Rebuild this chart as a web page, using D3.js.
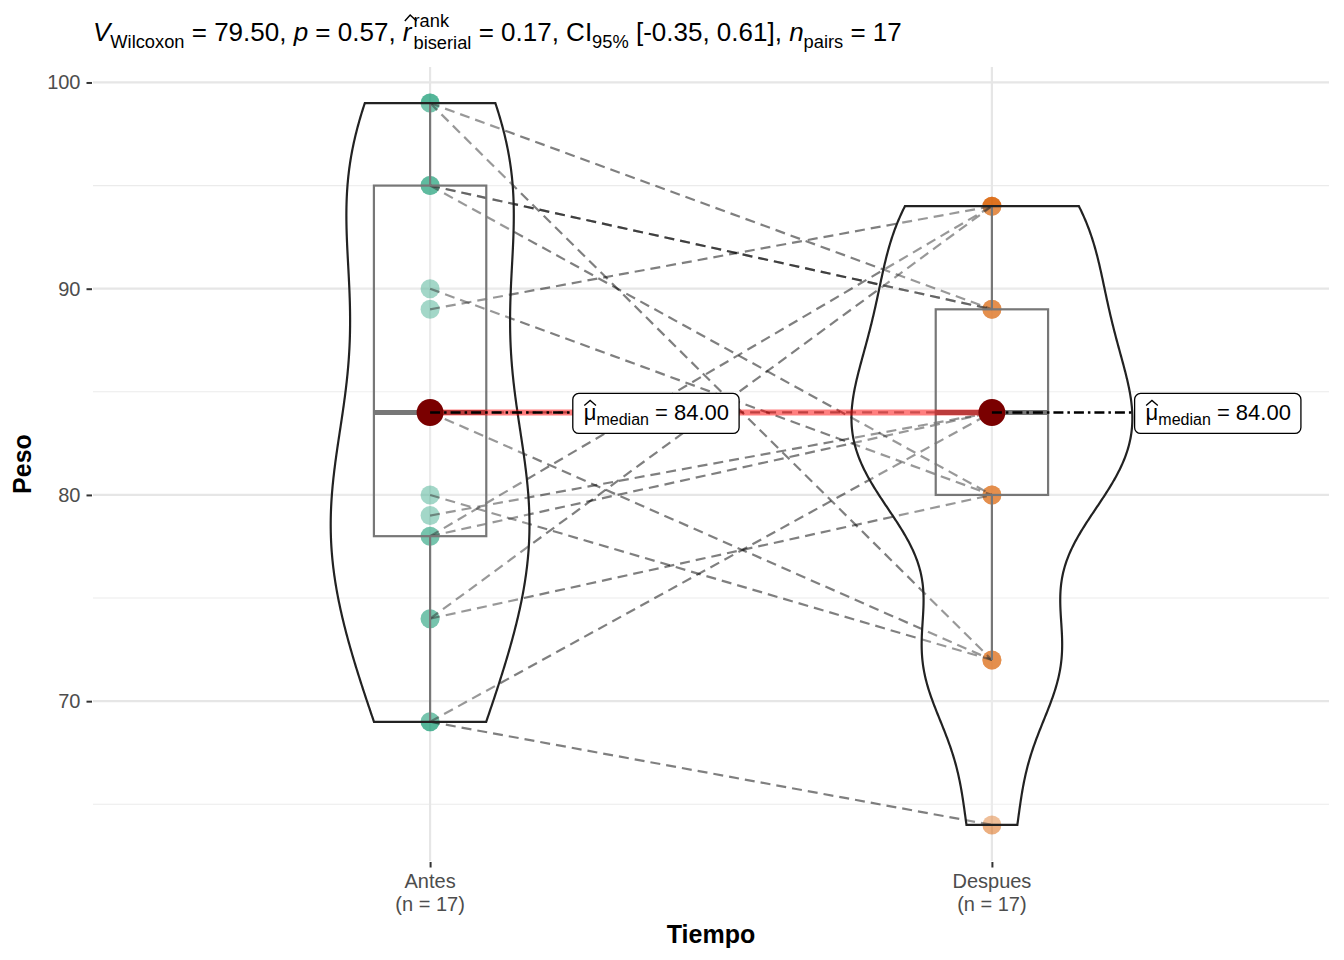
<!DOCTYPE html>
<html><head><meta charset="utf-8">
<script src="https://cdn.jsdelivr.net/npm/d3@7"></script>
<style>body{margin:0;background:#fff;} text{font-family:"Liberation Sans",Arial,Helvetica,sans-serif; white-space:pre;}</style>
</head><body><svg id="c" width="1344" height="960"></svg>
<script>
// ---------------- data ----------------
const categories = ["Antes", "Despues"];
const categoryCounts = ["(n = 17)", "(n = 17)"];
// paired observations (row i of antes pairs with row i of despues)
const antes   = [99, 99, 95, 95, 95, 90, 89, 84, 84, 80, 79, 78, 78, 74, 74, 69, 69];
const despues = [89, 72, 89, 89, 80, 80, 94, 84, 72, 72, 84, 94, 84, 94, 80, 84, 64];
const groupColors = ["#1B9E77", "#D95F02"];
const yMajorTicks = [70, 80, 90, 100];
const yMinorTicks = [65, 75, 85, 95];
const medianLabels = ["84.00", "84.00"];
const xTitle = "Tiempo";
const yTitle = "Peso";
const statV = "79.50", statP = "0.57", statR = "0.17", statCI = "[-0.35, 0.61]", statN = "17";

// ---------------- layout ----------------
const svg = d3.select("#c");
const panel = {left: 93, right: 1329, top: 67, bottom: 861};
const FONT = '"Liberation Sans",Arial,Helvetica,sans-serif';

const x = d3.scalePoint().domain(categories).range([panel.left, panel.right]).padding(0.6);
const step = x.step();
const allVals = antes.concat(despues);
const ymin = d3.min(allVals), ymax = d3.max(allVals), pad = (ymax - ymin) * 0.05;
const y = d3.scaleLinear().domain([ymin - pad, ymax + pad]).range([panel.bottom, panel.top]);

const groups = [antes, despues];

// ---------------- grid ----------------
const grid = svg.append("g");
grid.selectAll(".ymin").data(yMinorTicks).join("line")
  .attr("x1", panel.left).attr("x2", panel.right)
  .attr("y1", d => y(d)).attr("y2", d => y(d))
  .attr("stroke", "#EBEBEB").attr("stroke-width", 1.1);
grid.selectAll(".ymaj").data(yMajorTicks).join("line")
  .attr("x1", panel.left).attr("x2", panel.right)
  .attr("y1", d => y(d)).attr("y2", d => y(d))
  .attr("stroke", "#E6E6E6").attr("stroke-width", 2.2);
grid.selectAll(".xmaj").data(categories).join("line")
  .attr("x1", d => x(d)).attr("x2", d => x(d))
  .attr("y1", panel.top).attr("y2", panel.bottom)
  .attr("stroke", "#E6E6E6").attr("stroke-width", 2.2);

// ---------------- axes ----------------
const yAxis = svg.append("g").attr("transform", `translate(${panel.left - 1},0)`)
  .call(d3.axisLeft(y).tickValues(yMajorTicks).tickSize(5.5).tickPadding(6));
yAxis.select(".domain").remove();
yAxis.selectAll(".tick line").attr("stroke", "#333").attr("stroke-width", 2);
yAxis.selectAll(".tick text").attr("fill", "#4D4D4D").style("font-size", "20px").style("font-family", FONT);

const xAxis = svg.append("g").attr("transform", `translate(0,${panel.bottom + 1})`)
  .call(d3.axisBottom(x).tickSize(5.5).tickFormat(() => ""));
xAxis.select(".domain").remove();
xAxis.selectAll(".tick line").attr("stroke", "#333").attr("stroke-width", 2);
svg.selectAll(".xlab").data(categories).join("text")
  .attr("x", d => x(d)).attr("y", 888).attr("text-anchor", "middle")
  .attr("fill", "#4D4D4D").style("font-size", "20px").text(d => d);
svg.selectAll(".xlab2").data(categoryCounts).join("text")
  .attr("x", (d, i) => x(categories[i])).attr("y", 911).attr("text-anchor", "middle")
  .attr("fill", "#4D4D4D").style("font-size", "20px").text(d => d);

svg.append("text").attr("x", (panel.left + panel.right) / 2).attr("y", 943)
  .attr("text-anchor", "middle").style("font-size", "25px").style("font-weight", "bold").text(xTitle);
svg.append("text").attr("transform", `translate(31,${(panel.top + panel.bottom) / 2}) rotate(-90)`)
  .attr("text-anchor", "middle").style("font-size", "25px").style("font-weight", "bold").text(yTitle);

// ---------------- points ----------------
const pts = svg.append("g");
groups.forEach((vals, gi) => {
  pts.selectAll(null).data(vals).join("circle")
    .attr("cx", x(categories[gi])).attr("cy", d => y(d)).attr("r", 9.5)
    .attr("fill", groupColors[gi]).attr("fill-opacity", 0.5);
});

// ---------------- paired paths ----------------
svg.append("g").selectAll("line").data(d3.range(antes.length)).join("line")
  .attr("x1", x(categories[0])).attr("y1", i => y(antes[i]))
  .attr("x2", x(categories[1])).attr("y2", i => y(despues[i]))
  .attr("stroke", "#000").attr("stroke-opacity", 0.5).attr("stroke-width", 2.2)
  .attr("stroke-dasharray", "10,6");

// ---------------- boxplots ----------------
const boxG = svg.append("g");
groups.forEach((vals, gi) => {
  const s = vals.slice().sort(d3.ascending);
  const q1 = d3.quantileSorted(s, 0.25), med = d3.quantileSorted(s, 0.5), q3 = d3.quantileSorted(s, 0.75);
  const iqr = q3 - q1;
  const lo = d3.min(s.filter(v => v >= q1 - 1.5 * iqr));
  const hi = d3.max(s.filter(v => v <= q3 + 1.5 * iqr));
  const cx = x(categories[gi]), hw = 0.1 * step;
  const c = "#555";
  boxG.append("line").attr("x1", cx).attr("x2", cx).attr("y1", y(q3)).attr("y2", y(hi)).attr("stroke", c).attr("stroke-width", 2.2);
  boxG.append("line").attr("x1", cx).attr("x2", cx).attr("y1", y(q1)).attr("y2", y(lo)).attr("stroke", c).attr("stroke-width", 2.2);
  boxG.append("rect").attr("x", cx - hw).attr("y", y(q3)).attr("width", 2 * hw).attr("height", y(q1) - y(q3))
    .attr("fill", "none").attr("stroke", c).attr("stroke-width", 2.2);
  boxG.append("line").attr("x1", cx - hw).attr("x2", cx + hw).attr("y1", y(med)).attr("y2", y(med))
    .attr("stroke", c).attr("stroke-width", 5);
});

// ---------------- violins (gaussian KDE, bw.nrd0, trimmed) ----------------
function bwNrd0(v) {
  const sd = d3.deviation(v);
  const s = v.slice().sort(d3.ascending);
  const iqr = d3.quantileSorted(s, 0.75) - d3.quantileSorted(s, 0.25);
  const lo = Math.min(sd, iqr / 1.34);
  return 0.9 * lo * Math.pow(v.length, -0.2);
}
function kde(v) {
  const bw = bwNrd0(v), n = 512, a = d3.min(v), b = d3.max(v);
  return d3.range(n).map(k => {
    const t = a + (b - a) * k / (n - 1);
    const d = d3.mean(v, xi => Math.exp(-0.5 * ((t - xi) / bw) ** 2)) / (bw * Math.sqrt(2 * Math.PI));
    return {v: t, d};
  });
}
const dens = groups.map(kde);
const maxD = d3.max(dens, g => d3.max(g, p => p.d));
const violG = svg.append("g");
dens.forEach((g, gi) => {
  const cx = x(categories[gi]);
  const area = d3.area()
    .y(p => y(p.v))
    .x0(p => cx - p.d / maxD * 0.25 * step)
    .x1(p => cx + p.d / maxD * 0.25 * step);
  violG.append("path").attr("d", area(g))
    .attr("fill", "#fff").attr("fill-opacity", 0.2)
    .attr("stroke", "#222").attr("stroke-width", 2.2);
});

// ---------------- centrality ----------------
const medians = groups.map(v => d3.median(v));
svg.append("line")
  .attr("x1", x(categories[0])).attr("y1", y(medians[0]))
  .attr("x2", x(categories[1])).attr("y2", y(medians[1]))
  .attr("stroke", "red").attr("stroke-opacity", 0.5).attr("stroke-width", 6);
svg.selectAll(".medpt").data(medians).join("circle")
  .attr("cx", (d, i) => x(categories[i])).attr("cy", d => y(d)).attr("r", 13.5)
  .attr("fill", "#7A0000");

// labels
const labelOffset = 0.254 * step;
medians.forEach((m, i) => {
  const cx = x(categories[i]), cy = y(m);
  const lx = cx + labelOffset;
  svg.append("line").attr("x1", cx).attr("x2", lx).attr("y1", cy).attr("y2", cy)
    .attr("stroke", "#000").attr("stroke-width", 2.6).attr("stroke-dasharray", "10,4,2.5,4");
  const g = svg.append("g");
  const rect = g.append("rect");
  const base = cy + 8;
  let cxp = lx + 11;
  const mu = g.append("text").attr("x", cxp).attr("y", base).style("font-size", "22px").text("μ");
  const muW = mu.node().getComputedTextLength();
  g.append("path").attr("d", `M${cxp + 0.5},${base - 15} L${cxp + muW / 2},${base - 20} L${cxp + muW - 0.5},${base - 15}`)
    .attr("fill", "none").attr("stroke", "#000").attr("stroke-width", 1.3);
  cxp += muW;
  const sub = g.append("text").attr("x", cxp).attr("y", base + 5).style("font-size", "16px").text("median");
  cxp += sub.node().getComputedTextLength();
  const rest = g.append("text").attr("x", cxp).attr("y", base).style("font-size", "22px").text(" = " + medianLabels[i]);
  cxp += rest.node().getComputedTextLength();
  rect.attr("x", lx).attr("y", cy - 19).attr("width", cxp + 10 - lx).attr("height", 40)
    .attr("rx", 6).attr("fill", "#fff").attr("stroke", "#000").attr("stroke-width", 1.3);
});

// ---------------- subtitle (rich text) ----------------
(function () {
  const g = svg.append("g");
  const M = 26, S = 18.3, base = 41;
  let cx = 93;
  function put(t, size, dy, italic) {
    const el = g.append("text").attr("x", cx).attr("y", base + dy).style("font-size", size + "px")
      .style("font-style", italic ? "italic" : "normal").text(t);
    return el;
  }
  function adv(el) { cx += el.node().getComputedTextLength(); }
  adv(put("V", M, 0, true));
  adv(put("Wilcoxon", S, 7, false));
  adv(put(" = " + statV + ", ", M, 0, false));
  adv(put("p", M, 0, true));
  adv(put(" = " + statP + ", ", M, 0, false));
  const r = put("r", M, 0, true);
  const rw = r.node().getComputedTextLength();
  g.append("path").attr("d", `M${cx + 2},${base - 20} L${cx + rw / 2 + 3},${base - 26} L${cx + rw + 5},${base - 20}`)
    .attr("fill", "none").attr("stroke", "#000").attr("stroke-width", 1.4);
  cx += rw + 2;
  const sup = put("rank", S, -14, false), sb = put("biserial", S, 8, false);
  cx += Math.max(sup.node().getComputedTextLength(), sb.node().getComputedTextLength());
  adv(put(" = " + statR + ", CI", M, 0, false));
  adv(put("95%", S, 7, false));
  adv(put(" " + statCI + ", ", M, 0, false));
  adv(put("n", M, 0, true));
  adv(put("pairs", S, 7, false));
  adv(put(" = " + statN, M, 0, false));
})();
</script></body></html>
